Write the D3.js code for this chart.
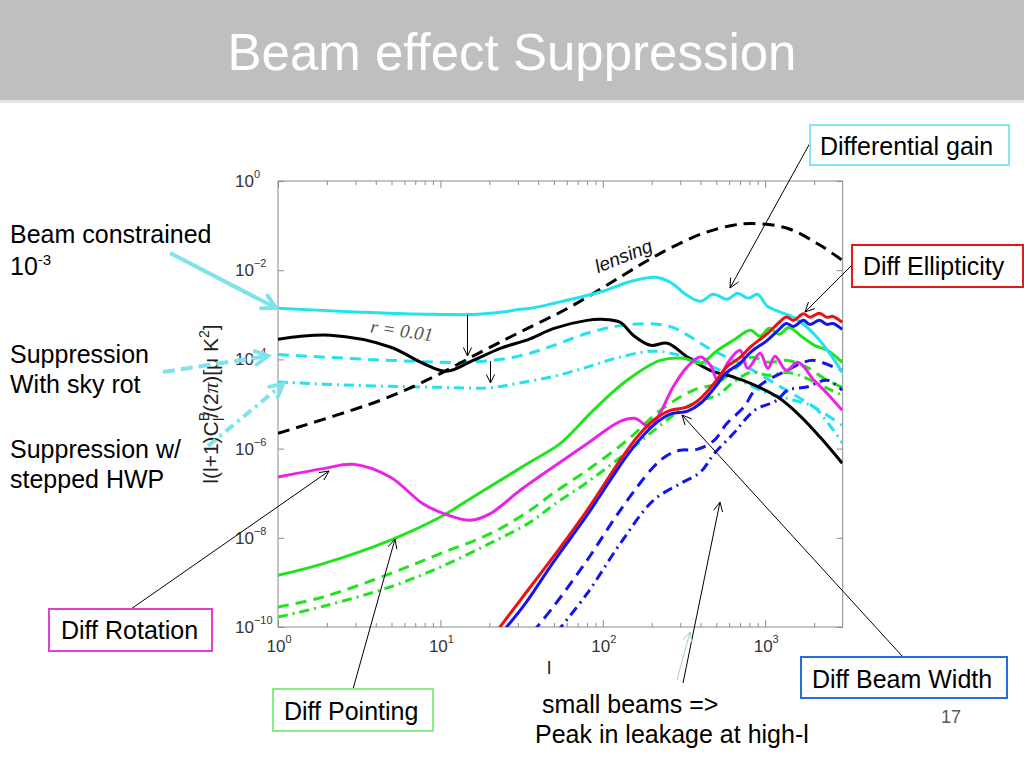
<!DOCTYPE html>
<html><head><meta charset="utf-8">
<script src="https://cdn.jsdelivr.net/npm/d3@7"></script>
<style>body{margin:0;background:#fff}svg{display:block}</style>
</head><body>
<svg id="c" width="1024" height="768" font-family="Liberation Sans, Arial, Helvetica, sans-serif"></svg>
<script>
// ---------- data: [multipole l, l(l+1)C_l^B/2pi in uK^2] ----------
const lensingBB = [[1,2.2e-6],[4.27,1.21e-5],[9.05,4.03e-5],[17.6,1.44e-4],[31,4.11e-4],[63,1.5e-3],[128,7.05e-3],[226,2.39e-2],[415,6.72e-2],[636,0.102],[845,0.111],[1370,8.7e-2],[2180,3.61e-2],[2980,1.67e-2]];
const primordialBB = [[1,2.82e-4],[2.1,3.47e-4],[4.9,1.90e-4],[7.8,8.2e-5],[10.9,5.4e-5],[15.9,9.5e-5],[23.4,1.77e-4],[35.7,2.9e-4],[49.5,4.91e-4],[80,7.5e-4],[99,7.9e-4],[128,6.8e-4],[154,3.47e-4],[197,2.07e-4],[250,2.30e-4],[334,1.11e-4],[459,5.7e-5],[637,4.03e-5],[812,2.91e-5],[1200,1.41e-5],[1650,5.3e-6],[2210,1.70e-6],[2980,4.7e-7]];
const gainSolid = [[1,1.40e-3],[3,1.16e-3],[6,1.05e-3],[10,1.02e-3],[15,1.01e-3],[20,1.08e-3],[25,1.17e-3],[30,1.31e-3],[36,1.40e-3],[50,1.81e-3],[100,3.37e-3],[150,5.64e-3],[210,6.93e-3],[260,5.36e-3],[330,2.74e-3],[400,2.01e-3],[479,2.88e-3],[585,2.23e-3],[674,3.03e-3],[788,2.34e-3],[896,2.88e-3],[1033,1.55e-3],[1250,1.14e-3],[1440,9.3e-4],[1660,6.8e-4],[2030,3.47e-4],[2470,1.44e-4],[2980,5.1e-5]];
const gainSkyRot = [[1,1.28e-4],[5,9.5e-5],[15,8.7e-5],[30,1.17e-4],[50,2.07e-4],[80,3.85e-4],[120,5.5e-4],[200,6.3e-4],[270,5.2e-4],[350,3.13e-4],[450,1.77e-4],[600,1.06e-4],[800,6.3e-5],[1200,2.62e-5],[1800,1.09e-5],[3000,3.33e-6]];
const gainHWP = [[1,3.11e-5],[3,2.62e-5],[10,2.37e-5],[20,2.31e-5],[30,2.91e-5],[50,4.18e-5],[80,6.7e-5],[120,1.06e-4],[200,1.52e-4],[300,1.24e-4],[450,7.4e-5],[700,3.40e-5],[1000,1.83e-5],[1500,1.21e-5],[2000,8.4e-6],[2500,3.3e-6],[3000,1.32e-6]];
const rotationSolid = [[1,2.31e-7],[1.9,3.56e-7],[2.9,4.45e-7],[4.9,2.31e-7],[7.8,5.8e-8],[10.4,3.54e-8],[15.3,2.47e-8],[20.3,3.49e-8],[31,1.16e-7],[49.5,3.86e-7],[80,1.29e-6],[128,4.09e-6],[157,4.78e-6],[196,3.05e-6],[225,6.2e-6],[271,2.40e-5],[331,6.8e-5],[400,1.13e-4],[460,7.4e-5],[510,3.40e-5],[590,8.6e-5],[700,1.60e-4],[780,6.3e-5],[930,1.37e-4],[1040,6.3e-5],[1150,1.17e-4],[1350,5.7e-5],[1590,8.6e-5],[2000,3.40e-5],[2400,1.74e-5],[2980,7.2e-6]];
const pointingSolid = [[1,1.44e-9],[1.9,2.64e-9],[4.9,8.8e-9],[10,2.92e-8],[15.9,8.2e-8],[35.7,5.0e-7],[54.6,1.29e-6],[87.4,7.2e-6],[141,3.40e-5],[226,9.5e-5],[315,1.06e-4],[400,8.2e-5],[509,1.60e-4],[637,2.68e-4],[812,4.49e-4],[930,3.30e-4],[1060,4.98e-4],[1220,3.66e-4],[1400,5.2e-4],[1690,3.18e-4],[2010,2.07e-4],[2410,1.60e-4],[2980,8.6e-5]];
const pointingSkyRot = [[1,2.81e-10],[1.9,4.71e-10],[4.9,1.57e-9],[10,4.43e-9],[20.3,1.24e-8],[35.7,4.14e-8],[49.5,1.0e-7],[80,3.26e-7],[141,1.53e-6],[226,7.2e-6],[360,2.03e-5],[509,2.91e-5],[637,5.7e-5],[812,1.11e-4],[1060,8.6e-5],[1370,9.5e-5],[1800,6.7e-5],[2410,3.40e-5],[2980,2.37e-5]];
const pointingHWP = [[1,1.67e-10],[1.9,2.91e-10],[4.9,7.9e-10],[10,2.21e-9],[20,7.4e-9],[35.7,2.23e-8],[49.5,5.4e-8],[80,1.75e-7],[141,8.3e-7],[226,3.33e-6],[300,7.2e-6],[400,1.21e-5],[509,1.57e-5],[637,3.07e-5],[812,5.1e-5],[1060,4.40e-5],[1370,5.1e-5],[1800,3.77e-5],[2410,2.25e-5],[2980,1.57e-5]];
const ellipticitySolid = [[22,7.6e-11],[31,3.97e-10],[49.5,3.72e-9],[80,4.14e-8],[128,5.5e-7],[163,1.82e-6],[205,4.31e-6],[260,7.2e-6],[333,8.6e-6],[400,1.34e-5],[485,2.91e-5],[580,6.8e-5],[700,1.11e-4],[812,1.90e-4],[1030,3.79e-4],[1200,6.4e-4],[1350,8.9e-4],[1490,7.5e-4],[1720,1.06e-3],[1880,8.8e-4],[2160,1.08e-3],[2400,8.8e-4],[2610,9.2e-4],[2980,6.8e-4]];
const beamWidthSolid = [[24,7.6e-11],[33.4,3.40e-10],[49.5,2.82e-9],[80,3.20e-8],[128,4.23e-7],[163,1.38e-6],[205,3.33e-6],[260,5.9e-6],[333,6.9e-6],[400,1.04e-5],[485,2.25e-5],[580,5.1e-5],[700,8.2e-5],[812,1.44e-4],[1030,2.68e-4],[1200,4.49e-4],[1350,6.4e-4],[1490,5.5e-4],[1720,7.5e-4],[1880,6.1e-4],[2160,7.5e-4],[2400,6.1e-4],[2610,6.4e-4],[2980,4.73e-4]];
const beamWidthSkyRot = [[37,7.6e-11],[49.5,2.81e-10],[80,3.13e-9],[128,4.14e-8],[205,3.86e-7],[250,7.1e-7],[300,9.2e-7],[380,9.6e-7],[485,1.53e-6],[580,3.64e-6],[740,8.6e-6],[860,2.03e-5],[1030,3.40e-5],[1370,5.7e-5],[1660,8.2e-5],[1990,9.5e-5],[2630,6.8e-5],[2980,5.7e-5]];
const beamWidthHWP = [[52,7.6e-11],[80,5.6e-10],[128,7.4e-9],[205,6.9e-8],[300,1.64e-7],[400,2.99e-7],[485,7.7e-7],[637,2.17e-6],[860,7.2e-6],[1180,1.21e-5],[1370,2.03e-5],[1800,2.40e-5],[2410,3.40e-5],[2980,2.03e-5]];

const xTicks = [1, 10, 100, 1000];
const xTickExp = ["0", "1", "2", "3"];
const yTicks = [1, 1e-2, 1e-4, 1e-6, 1e-8, 1e-10];
const yTickExp = ["0", "\u22122", "\u22124", "\u22126", "\u22128", "\u221210"];

// ---------- drawing ----------
const svg = d3.select('#c');
svg.append('rect').attr('width',1024).attr('height',768).attr('fill','#fff');
svg.append('rect').attr('width',1024).attr('height',100).attr('fill','#bfbfbf');
svg.append('rect').attr('y',100).attr('width',1024).attr('height',3).attr('fill','#e3e3e3');
svg.append('text').attr('x',512).attr('y',70).attr('text-anchor','middle').attr('fill','#fff')
  .attr('font-size',52).attr('textLength',569).attr('lengthAdjust','spacingAndGlyphs').text('Beam effect Suppression');

const L = 278, T = 181, B = 627, R = 278 + 162.4*Math.log10(3000);
const x = d3.scaleLog().domain([1,3000]).range([L,R]);
const y = d3.scaleLog().domain([1e-10,1]).range([B,T]);

const minor = [];
for (let d=1; d<=1000; d*=10) for (let k=2;k<=9;k++) if (d*k<3000) minor.push(d*k);
function sty(g){ g.select('.domain').remove(); g.selectAll('line').attr('stroke','#8a8a8a'); }
svg.append('g').attr('transform',`translate(0,${B})`).call(d3.axisBottom(x).tickValues(xTicks).tickSize(-7).tickFormat(()=>'')).call(sty);
svg.append('g').attr('transform',`translate(0,${B})`).call(d3.axisBottom(x).tickValues(minor).tickSize(-4).tickFormat(()=>'')).call(sty);
svg.append('g').attr('transform',`translate(0,${T})`).call(d3.axisTop(x).tickValues(xTicks).tickSize(-7).tickFormat(()=>'')).call(sty);
svg.append('g').attr('transform',`translate(0,${T})`).call(d3.axisTop(x).tickValues(minor).tickSize(-4).tickFormat(()=>'')).call(sty);
svg.append('g').attr('transform',`translate(${L},0)`).call(d3.axisLeft(y).tickValues(yTicks).tickSize(-6).tickFormat(()=>'')).call(sty);
svg.append('g').attr('transform',`translate(${R},0)`).call(d3.axisRight(y).tickValues(yTicks).tickSize(-6).tickFormat(()=>'')).call(sty);
svg.append('rect').attr('x',L).attr('y',T).attr('width',R-L).attr('height',B-T).attr('fill','none').attr('stroke','#8a8a8a').attr('stroke-width',1);

xTicks.forEach((v,i)=>{
  const t = svg.append('text').attr('x',x(v)+1).attr('y',652).attr('text-anchor','middle').attr('font-size',17).attr('fill','#333').text('10');
  t.append('tspan').attr('font-size',11).attr('dy',-9).text(xTickExp[i]);
});
yTicks.forEach((v,i)=>{
  const t = svg.append('text').attr('x',235).attr('y',y(v)+6).attr('font-size',17).attr('fill','#333').text('10');
  t.append('tspan').attr('font-size',11).attr('dy',-9).text(yTickExp[i]);
});
svg.append('text').attr('x',549).attr('y',674).attr('text-anchor','middle').attr('font-size',19).attr('fill','#222').text('l');
// y title
const yt = svg.append('text').attr('transform','translate(218,404) rotate(-90)').attr('text-anchor','middle').attr('font-size',21).attr('fill','#222');
yt.append('tspan').text('l(l+1)C');
yt.append('tspan').attr('font-size',14).attr('dy',-9).text('B');
yt.append('tspan').attr('font-size',14).attr('dx',-9).attr('dy',15).text('l');
yt.append('tspan').attr('dy',-6).text('/(2');
yt.append('tspan').attr('font-family','Liberation Serif, serif').attr('font-style','italic').text('\u03c0');
yt.append('tspan').text(')[\u03bc K');
yt.append('tspan').attr('font-size',14).attr('dy',-9).text('2');
yt.append('tspan').attr('dy',9).text(']');

// curves
svg.append('clipPath').attr('id','clip').append('rect').attr('x',L).attr('y',T).attr('width',R-L).attr('height',B-T);
const plot = svg.append('g').attr('clip-path','url(#clip)');
const line = d3.line().x(d=>x(d[0])).y(d=>y(d[1])).curve(d3.curveCatmullRom.alpha(0.5));
const CY='#22e2ee', GR='#1fe41f', MG='#ee22e6', RD='#ee1111', BL='#1414ee', BK='#000';
const DASH='11,7', DD='10,5,2,5';
const series = [
  [gainHWP, CY, DD], [gainSkyRot, CY, DASH],
  [pointingHWP, GR, DD], [pointingSkyRot, GR, DASH],
  [beamWidthHWP, BL, DD], [beamWidthSkyRot, BL, DASH],
  [lensingBB, BK, '12,7'], [primordialBB, BK, null],
  [pointingSolid, GR, null], [rotationSolid, MG, null], [gainSolid, CY, null],
  [ellipticitySolid, RD, null], [beamWidthSolid, BL, null]
];
series.forEach(([d,c,dash])=>{
  plot.append('path').datum(d).attr('d',line).attr('fill','none').attr('stroke',c)
    .attr('stroke-width',3).attr('stroke-dasharray',dash).attr('stroke-linejoin','round');
});

// annotations
function arrow(x1,y1,x2,y2,o={}){
  const col=o.color||'#000', w=o.width||1, len=o.len||10, phi=o.phi||0.45;
  svg.append('line').attr('x1',x1).attr('y1',y1).attr('x2',x2).attr('y2',y2).attr('stroke',col).attr('stroke-width',w).attr('stroke-dasharray',o.dash||null);
  const a=Math.atan2(y2-y1,x2-x1);
  const p1=[x2-len*Math.cos(a-phi), y2-len*Math.sin(a-phi)], p2=[x2-len*Math.cos(a+phi), y2-len*Math.sin(a+phi)];
  svg.append('path').attr('d',`M${p1}L${x2},${y2}L${p2}`).attr('fill','none').attr('stroke',col).attr('stroke-width',w).attr('stroke-linecap','round');
}
function box(x0,y0,x1,y1,col,label,tx,ty){
  svg.append('rect').attr('x',x0).attr('y',y0).attr('width',x1-x0).attr('height',y1-y0).attr('fill','#fff').attr('stroke',col).attr('stroke-width',2);
  svg.append('text').attr('x',tx).attr('y',ty).attr('font-size',25).attr('fill','#000').text(label);
}
arrow(467.5,315,467.5,356,{len:9});
arrow(490.5,361,490.5,383,{len:9});
svg.append('text').attr('transform','translate(401,337) rotate(8)').attr('text-anchor','middle').attr('font-size',19).attr('fill','#555').attr('font-family','Liberation Serif, serif').attr('font-style','italic').text('r = 0.01');
svg.append('text').attr('transform','translate(626,262) rotate(-22)').attr('text-anchor','middle').attr('font-size',19).attr('font-style','italic').attr('fill','#111').text('lensing');

const AC='#7fe3ee';
svg.append('text').attr('x',10).attr('y',243).attr('font-size',25).text('Beam constrained');
const t103 = svg.append('text').attr('x',10).attr('y',275).attr('font-size',25).text('10');
t103.append('tspan').attr('font-size',15).attr('dy',-10).text('-3');
arrow(170,253,276,308,{color:AC,width:4,len:15,phi:0.5});
svg.append('text').attr('x',10).attr('y',363).attr('font-size',25).text('Suppression');
svg.append('text').attr('x',10).attr('y',393).attr('font-size',25).text('With sky rot');
arrow(163,372,268,356,{color:AC,width:4,len:14,phi:0.5,dash:'12,6'});
svg.append('text').attr('x',10).attr('y',458).attr('font-size',25).text('Suppression w/');
svg.append('text').attr('x',10).attr('y',488).attr('font-size',25).text('stepped HWP');
arrow(208,446,283,384,{color:AC,width:4,len:14,phi:0.5,dash:'10,5,3,5'});

arrow(810,143,730,288);
box(810,125,1009,165,'#86e6ee','Differential gain',820,155);
arrow(852,265,805,312);
box(852,245,1023,287,'#e01a1a','Diff Ellipticity',863,275);
arrow(131,609,329,471);
box(49,609,212,651,'#e23fd4','Diff Rotation',61,639);
arrow(353,689,395,539);
box(273,689,433,731,'#86ee86','Diff Pointing',284,720);
arrow(903,657,682,415);
box(801,657,1007,698,'#1f6fe0','Diff Beam Width',812,688);
arrow(683,683,720,502);
arrow(677,680,690,632,{color:'#a8ccd8'});
svg.append('text').attr('x',542).attr('y',713).attr('font-size',25).text('small beams =>');
svg.append('text').attr('x',535).attr('y',743).attr('font-size',25).text('Peak in leakage at high-l');
svg.append('text').attr('x',941).attr('y',723).attr('font-size',18).attr('fill','#595959').text('17');
</script>
</body></html>
